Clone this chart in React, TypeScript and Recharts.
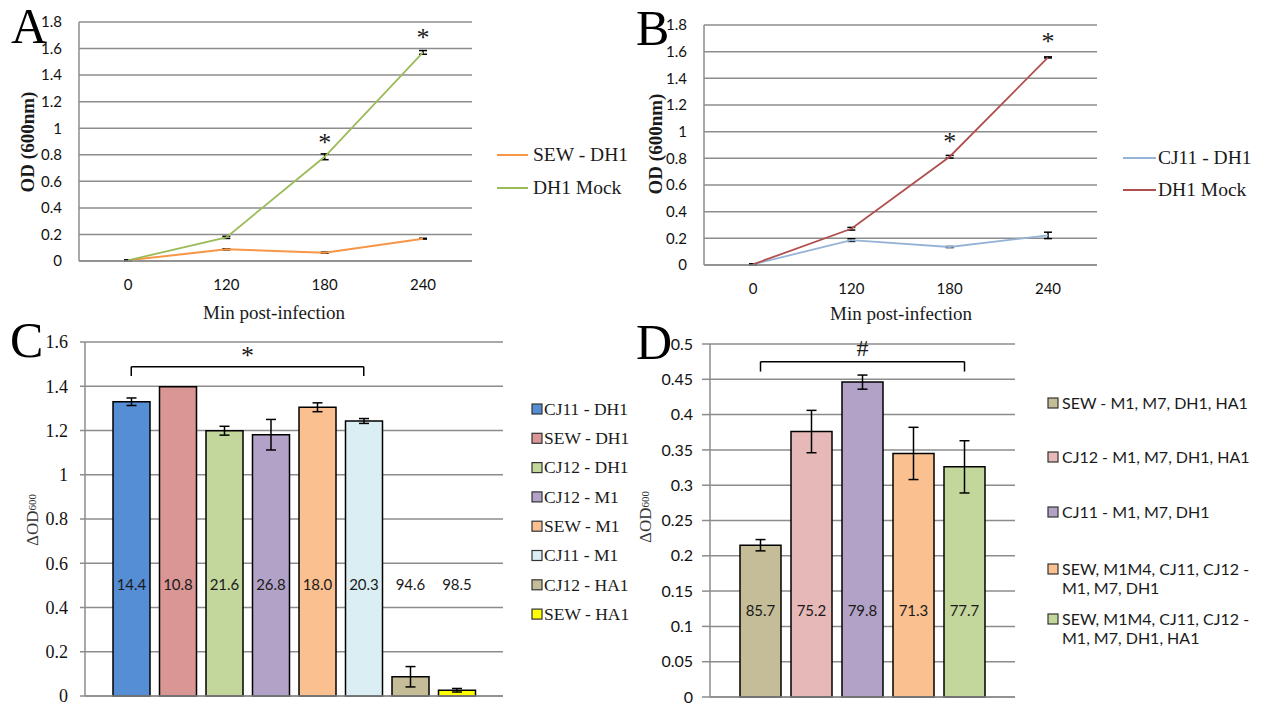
import React from 'react';
import {
  LineChart, Line, BarChart, Bar, XAxis, YAxis, CartesianGrid,
  ErrorBar, LabelList, Cell, ReferenceLine,
} from 'recharts';

const SERIF = '"Liberation Serif", "Times New Roman", serif';
const SANS = 'Lato, "Noto Sans", sans-serif';
const GRID = '#8c8c8c';
const INK = '#1a1a1a';

// ---------- Panel A / B data ----------
const TIMES = ['0', '120', '180', '240'];
const A_SEW = [0.005, 0.088, 0.063, 0.168];
const A_SEW_ERR = [0.002, 0.004, 0.004, 0.003];
const A_MOCK = [0.005, 0.178, 0.785, 1.571];
const A_MOCK_ERR = [0.002, 0.008, 0.022, 0.014];
const A_SIG = ['', '', '*', '*'];

const B_CJ11 = [0.005, 0.187, 0.135, 0.222];
const B_CJ11_ERR = [0.002, 0.01, 0.004, 0.024];
const B_MOCK = [0.005, 0.272, 0.812, 1.557];
const B_MOCK_ERR = [0.002, 0.01, 0.01, 0.004];
const B_SIG = ['', '', '*', '*'];

const OD_TICKS = [0, 0.2, 0.4, 0.6, 0.8, 1, 1.2, 1.4, 1.6, 1.8];

// ---------- Panel C data ----------
const C_GROUPS = ['CJ11 - DH1', 'SEW - DH1', 'CJ12 - DH1', 'CJ12 - M1', 'SEW - M1', 'CJ11 - M1', 'CJ12 - HA1', 'SEW - HA1'];
const C_VALUES = [1.33, 1.398, 1.199, 1.181, 1.305, 1.243, 0.087, 0.026];
const C_ERRORS = [0.017, 0, 0.02, 0.069, 0.02, 0.011, 0.046, 0.008];
const C_PCT = ['14.4', '10.8', '21.6', '26.8', '18.0', '20.3', '94.6', '98.5'];
const C_COLORS = ['#558ED5', '#D99694', '#C3D69B', '#B3A2C7', '#FAC090', '#DBEEF4', '#C4BD97', '#FFFF00'];
const C_TICKS = [0, 0.2, 0.4, 0.6, 0.8, 1, 1.2, 1.4, 1.6];
const C_BRACKET = { top: 1.488, foot: 1.446, from: 'CJ11 - DH1', to: 'CJ11 - M1', mark: '*' };

// ---------- Panel D data ----------
const D_GROUPS = [
  'SEW - M1, M7, DH1, HA1',
  'CJ12 - M1, M7, DH1, HA1',
  'CJ11 - M1, M7, DH1',
  'SEW, M1M4, CJ11, CJ12 - M1, M7, DH1',
  'SEW, M1M4, CJ11, CJ12 - M1, M7, DH1, HA1',
];
const D_LEGEND_LINES = [
  ['SEW - M1, M7, DH1, HA1'],
  ['CJ12 - M1, M7, DH1, HA1'],
  ['CJ11 - M1, M7, DH1'],
  ['SEW, M1M4, CJ11, CJ12 -', 'M1, M7, DH1'],
  ['SEW, M1M4, CJ11, CJ12 -', 'M1, M7, DH1, HA1'],
];
const D_VALUES = [0.215, 0.376, 0.446, 0.345, 0.326];
const D_ERRORS = [0.008, 0.03, 0.01, 0.037, 0.037];
const D_PCT = ['85.7', '75.2', '79.8', '71.3', '77.7'];
const D_COLORS = ['#C4BD97', '#E6B9B8', '#B3A2C7', '#FAC090', '#C3D69B'];
const D_TICKS = [0, 0.05, 0.1, 0.15, 0.2, 0.25, 0.3, 0.35, 0.4, 0.45, 0.5];
const D_BRACKET = { top: 0.475, foot: 0.461, from: D_GROUPS[0], to: D_GROUPS[4], mark: '#' };

const dataA = TIMES.map((t, i) => ({ t, sew: A_SEW[i], sewErr: A_SEW_ERR[i], mock: A_MOCK[i], mockErr: A_MOCK_ERR[i], sig: A_SIG[i] }));
const dataB = TIMES.map((t, i) => ({ t, cj: B_CJ11[i], cjErr: B_CJ11_ERR[i], mock: B_MOCK[i], mockErr: B_MOCK_ERR[i], sig: B_SIG[i] }));
const dataC = C_GROUPS.map((name, i) => ({ name, v: C_VALUES[i], err: C_ERRORS[i], pct: C_PCT[i] }));
const dataD = D_GROUPS.map((name, i) => ({ name, v: D_VALUES[i], err: D_ERRORS[i], pct: D_PCT[i] }));

const starLabel = (lift: number) => (props: any) => {
  const { x, y, value } = props;
  if (!value) return null;
  return (
    <text x={x} y={y - lift} textAnchor="middle" fontFamily={SERIF} fontSize={26} fill={INK}>
      {value}
    </text>
  );
};

const pctLabel = (rowY: number) => (props: any) => {
  const { x, width, value } = props;
  return (
    <text x={Number(x) + Number(width) / 2} y={rowY} textAnchor="middle" dominantBaseline="central"
      fontFamily={SANS} fontSize={15} fill={INK}>
      {value}
    </text>
  );
};

const sansTick = { fontFamily: SANS, fontSize: 15, fill: '#111' };

function LinePanel(props: {
  data: any[]; left: number; top: number; width: number; height: number;
  margin: any; yWidth: number; xHeight: number;
  keyA: string; errA: string; colorA: string; widthA: number;
  keyB: string; errB: string; colorB: string; widthB: number; lift: number;
}) {
  const p = props;
  return (
    <div style={{ position: 'absolute', left: p.left, top: p.top }}>
      <LineChart width={p.width} height={p.height} data={p.data} margin={p.margin}>
        <CartesianGrid vertical={false} stroke={GRID} strokeWidth={1.5} />
        <XAxis dataKey="t" padding={{ left: 49, right: 49 }} height={p.xHeight}
          tickLine={false} tickSize={0} tickMargin={18} interval={0}
          axisLine={{ stroke: GRID, strokeWidth: 1.5 }} tick={sansTick} />
        <YAxis width={p.yWidth} domain={[0, 1.8]} ticks={OD_TICKS} tickLine={false} interval={0}
          tickSize={0} tickMargin={17} axisLine={{ stroke: GRID, strokeWidth: 1.5 }} tick={sansTick} />
        <Line dataKey={p.keyA} stroke={p.colorA} strokeWidth={p.widthA} dot={false} isAnimationActive={false}>
          <ErrorBar dataKey={p.errA} width={4} stroke="#000" strokeWidth={1.5} direction="y" />
        </Line>
        <Line dataKey={p.keyB} stroke={p.colorB} strokeWidth={p.widthB} dot={false} isAnimationActive={false}>
          <ErrorBar dataKey={p.errB} width={4} stroke="#000" strokeWidth={1.5} direction="y" />
          <LabelList dataKey="sig" content={starLabel(p.lift)} />
        </Line>
      </LineChart>
    </div>
  );
}

function BarPanel(props: {
  data: any[]; colors: string[]; left: number; top: number; width: number; height: number;
  margin: any; yWidth: number; xHeight: number; pad: number; barSize: number;
  domain: number[]; ticks: number[]; tick: any; tickSize: number; tickMargin: number;
  rowY: number; bracket: any; markSize: number; markOffset: number;
}) {
  const p = props;
  const b = p.bracket;
  return (
    <div style={{ position: 'absolute', left: p.left, top: p.top }}>
      <BarChart width={p.width} height={p.height} data={p.data} margin={p.margin} barSize={p.barSize}>
        <CartesianGrid vertical={false} stroke={GRID} strokeWidth={1.5} />
        <XAxis dataKey="name" tick={false} tickLine={false} height={p.xHeight}
          padding={{ left: p.pad, right: p.pad }} axisLine={{ stroke: GRID, strokeWidth: 1.5 }} />
        <YAxis width={p.yWidth} domain={p.domain} ticks={p.ticks} tickSize={p.tickSize} interval={0}
          tickMargin={p.tickMargin} tickLine={{ stroke: GRID, strokeWidth: 1.5 }}
          axisLine={{ stroke: GRID, strokeWidth: 1.5 }} tick={p.tick} />
        <Bar dataKey="v" stroke="#000" strokeWidth={1.5} isAnimationActive={false}>
          {p.data.map((d, i) => (
            <Cell key={d.name} fill={p.colors[i]} />
          ))}
          <ErrorBar dataKey="err" width={5} stroke="#000" strokeWidth={1.5} direction="y" />
          <LabelList dataKey="pct" content={pctLabel(p.rowY)} />
        </Bar>
        <ReferenceLine segment={[{ x: b.from, y: b.top }, { x: b.to, y: b.top }]} stroke="#000" strokeWidth={1.5}
          label={{ value: b.mark, position: 'top', offset: p.markOffset, fill: INK, fontSize: p.markSize, fontFamily: SERIF }} />
        <ReferenceLine segment={[{ x: b.from, y: b.top }, { x: b.from, y: b.foot }]} stroke="#000" strokeWidth={1.5} />
        <ReferenceLine segment={[{ x: b.to, y: b.top }, { x: b.to, y: b.foot }]} stroke="#000" strokeWidth={1.5} />
      </BarChart>
    </div>
  );
}

function Overlay() {
  const capBase = (cy: number, fs: number) => cy + 0.33 * fs;
  const cLegendY = C_GROUPS.map((_, i) => 409 + 29.3 * i);
  const dLegendY = [403, 457, 512, 569, 619];
  return (
    <svg width={1261} height={705} style={{ position: 'absolute', left: 0, top: 0, pointerEvents: 'none' }}>
      {/* panel letters */}
      <text x={11} y={43} fontFamily={SERIF} fontSize={50} fill="#000">A</text>
      <text x={636} y={45} fontFamily={SERIF} fontSize={50} fill="#000">B</text>
      <text x={10} y={357} fontFamily={SERIF} fontSize={50} fill="#000">C</text>
      <text x={636} y={359} fontFamily={SERIF} fontSize={50} fill="#000">D</text>

      {/* axis titles A/B */}
      <text x={27} y={142} transform="rotate(-90 27 142)" textAnchor="middle" dominantBaseline="central"
        fontFamily={SERIF} fontWeight="bold" fontSize={19} fill={INK}>OD (600nm)</text>
      <text x={274} y={312} textAnchor="middle" dominantBaseline="central" fontFamily={SERIF} fontSize={19} fill={INK}>Min post-infection</text>
      <text x={655} y={144} transform="rotate(-90 655 144)" textAnchor="middle" dominantBaseline="central"
        fontFamily={SERIF} fontWeight="bold" fontSize={19} fill={INK}>OD (600nm)</text>
      <text x={901} y={313} textAnchor="middle" dominantBaseline="central" fontFamily={SERIF} fontSize={19} fill={INK}>Min post-infection</text>

      {/* axis titles C/D */}
      <text x={32} y={520} transform="rotate(-90 32 520)" textAnchor="middle" dominantBaseline="central"
        fontFamily={SERIF} fontSize={17} fill="#333">ΔOD<tspan fontSize={11}>600</tspan></text>
      <text x={645} y={517} transform="rotate(-90 645 517)" textAnchor="middle" dominantBaseline="central"
        fontFamily={SERIF} fontSize={17} fill="#333">ΔOD<tspan fontSize={11}>600</tspan></text>

      {/* legend A */}
      <line x1={497} y1={155} x2={528} y2={155} stroke="#F79646" strokeWidth={2} />
      <text x={533} y={capBase(155, 19.5)} fontFamily={SERIF} fontSize={19.5} fill={INK}>SEW - DH1</text>
      <line x1={497} y1={188} x2={528} y2={188} stroke="#9BBB59" strokeWidth={2} />
      <text x={533} y={capBase(188, 19.5)} fontFamily={SERIF} fontSize={19.5} fill={INK}>DH1 Mock</text>

      {/* legend B */}
      <line x1={1123} y1={158} x2={1156} y2={158} stroke="#95B3D7" strokeWidth={2} />
      <text x={1158} y={capBase(158, 19.5)} fontFamily={SERIF} fontSize={19.5} fill={INK}>CJ11 - DH1</text>
      <line x1={1123} y1={190} x2={1156} y2={190} stroke="#B0504E" strokeWidth={2} />
      <text x={1158} y={capBase(190, 19.5)} fontFamily={SERIF} fontSize={19.5} fill={INK}>DH1 Mock</text>

      {/* legend C */}
      {C_GROUPS.map((g, i) => (
        <g key={g}>
          <rect x={532} y={cLegendY[i] - 5} width={10} height={10} fill={C_COLORS[i]} stroke="#333" strokeWidth={1.2} />
          <text x={544} y={capBase(cLegendY[i], 17.5)} fontFamily={SERIF} fontSize={17.5} fill={INK}>{g}</text>
        </g>
      ))}

      {/* legend D */}
      {D_LEGEND_LINES.map((lines, i) => (
        <g key={i}>
          <rect x={1048} y={dLegendY[i] - 5} width={10} height={10} fill={D_COLORS[i]} stroke="#333" strokeWidth={1.2} />
          {lines.map((ln, j) => (
            <text key={j} x={1062} y={dLegendY[i] + 19.5 * j + 5.6} fontFamily={SANS} fontSize={16} fill={INK}>{ln}</text>
          ))}
        </g>
      ))}
    </svg>
  );
}

export default function App() {
  return (
    <div style={{ position: 'absolute', left: 0, top: 0, width: 1261, height: 705, background: '#fff', overflow: 'hidden' }}>
      <LinePanel data={dataA} left={0} top={0} width={640} height={330}
        margin={{ top: 22, right: 168, bottom: 0, left: 0 }} yWidth={79} xHeight={69}
        keyA="sew" errA="sewErr" colorA="#F79646" widthA={2}
        keyB="mock" errB="mockErr" colorB="#9BBB59" widthB={1.8} lift={6} />
      <LinePanel data={dataB} left={630} top={0} width={631} height={330}
        margin={{ top: 25, right: 164, bottom: 0, left: 0 }} yWidth={74} xHeight={65}
        keyA="cj" errA="cjErr" colorA="#95B3D7" widthA={1.8}
        keyB="mock" errB="mockErr" colorB="#B0504E" widthB={1.8} lift={7} />
      <BarPanel data={dataC} colors={C_COLORS} left={0} top={330} width={640} height={375}
        margin={{ top: 12, right: 137, bottom: 0, left: 0 }} yWidth={85} xHeight={9} pad={23} barSize={37}
        domain={[0, 1.6]} ticks={C_TICKS} tick={{ fontFamily: SERIF, fontSize: 18, fill: '#111' }}
        tickSize={5} tickMargin={12} rowY={254} bracket={C_BRACKET} markSize={26} markOffset={3} />
      <BarPanel data={dataD} colors={D_COLORS} left={630} top={330} width={631} height={375}
        margin={{ top: 14, right: 246, bottom: 0, left: 0 }} yWidth={80} xHeight={8} pad={25} barSize={41}
        domain={[0, 0.5]} ticks={D_TICKS} tick={{ fontFamily: SANS, fontSize: 16, fill: '#111' }}
        tickSize={8} tickMargin={9} rowY={280} bracket={D_BRACKET} markSize={24} markOffset={6} />
      <Overlay />
    </div>
  );
}
